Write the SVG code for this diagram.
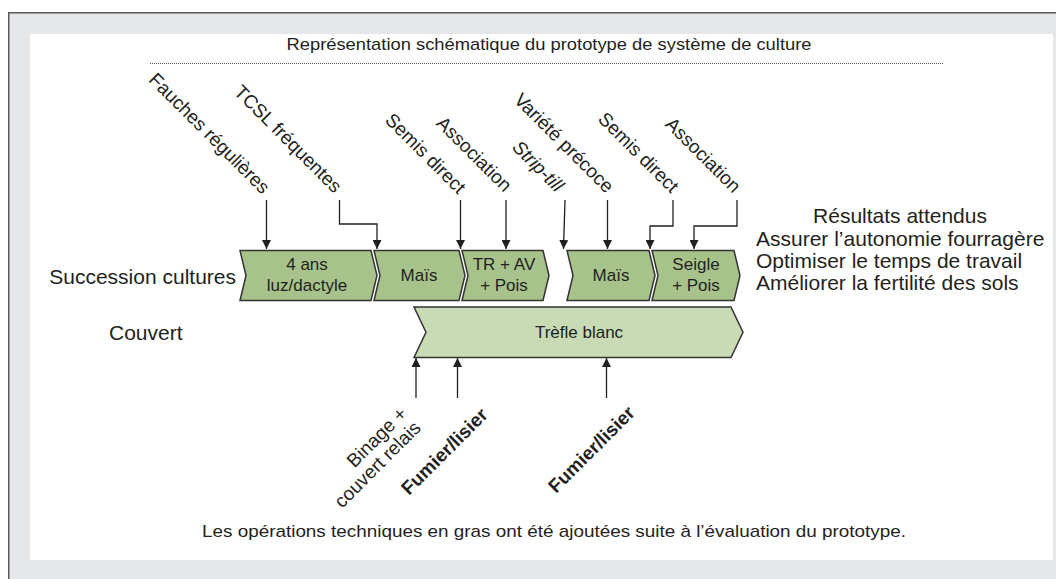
<svg xmlns="http://www.w3.org/2000/svg" width="1056" height="579" viewBox="0 0 1056 579">
<style>
text{font-family:"Liberation Sans",Arial,Helvetica,sans-serif;fill:#231f20}
.lbl{font-size:21px}
.ch{font-size:17px;text-anchor:middle}
.rot{font-size:19px;text-anchor:end}
.bold{font-weight:bold}
.chev{fill:#a7c38b;stroke:#333;stroke-width:1.5;stroke-linejoin:miter}
.cov{fill:#c9dbb4;stroke:#333;stroke-width:1.5}
.con{fill:none;stroke:#231f20;stroke-width:1.3}
</style>
<defs>
<marker id="ah" viewBox="0 0 10 10" refX="10" refY="5" markerWidth="9" markerHeight="9" markerUnits="userSpaceOnUse" orient="auto">
<path d="M0,0 L10,5 L0,10 z" fill="#231f20"/>
</marker>
</defs>
<rect x="0" y="0" width="1056" height="579" fill="#ffffff"/>
<rect x="8" y="12" width="1048" height="567" fill="#e6e7e8"/>
<path d="M8.75,579 V12.75 H1056" fill="none" stroke="#58595b" stroke-width="1.5"/>
<rect x="30" y="34" width="1023" height="526" fill="#ffffff"/>

<text id="title" x="549" y="50" font-size="17" text-anchor="middle" textLength="525" lengthAdjust="spacingAndGlyphs">Représentation schématique du prototype de système de culture</text>
<line x1="150" y1="63.5" x2="943" y2="63.5" stroke="#58595b" stroke-width="1" stroke-dasharray="1 1"/>

<g id="labels-top">
<text class="rot" transform="translate(262,195) rotate(45)">Fauches régulières</text>
<text class="rot" transform="translate(334,194) rotate(45)">TCSL fréquentes</text>
<text class="rot" transform="translate(458,195) rotate(45)">Semis direct</text>
<text class="rot" transform="translate(504,193) rotate(45)">Association</text>
<text class="rot" transform="translate(556,193) rotate(45)" font-style="italic">Strip-till</text>
<text class="rot" transform="translate(606,194) rotate(45)">Variété précoce</text>
<text class="rot" transform="translate(671,194) rotate(45)">Semis direct</text>
<text class="rot" transform="translate(733,194) rotate(45)">Association</text>
</g>

<g id="connectors">
<path class="con" marker-end="url(#ah)" d="M266.5,200 V249"/>
<path class="con" marker-end="url(#ah)" d="M339.5,200 V224 H377 V249"/>
<path class="con" marker-end="url(#ah)" d="M460.5,200 V249"/>
<path class="con" marker-end="url(#ah)" d="M506,200 V249"/>
<path class="con" marker-end="url(#ah)" d="M565,200 L563.5,249"/>
<path class="con" marker-end="url(#ah)" d="M607.5,200 V249"/>
<path class="con" marker-end="url(#ah)" d="M673,200 V226 H650 V249"/>
<path class="con" marker-end="url(#ah)" d="M737,200 V226 H694 V249"/>
<path class="con" marker-end="url(#ah)" d="M416,398 V358"/>
<path class="con" marker-end="url(#ah)" d="M457.5,398 V358"/>
<path class="con" marker-end="url(#ah)" d="M606.5,398 V358"/>
</g>

<text id="row1" class="lbl" x="236" y="284" text-anchor="end" font-size="22">Succession cultures</text>
<text id="row2" class="lbl" x="109" y="340">Couvert</text>

<g id="c1"><polygon class="chev" points="240,250.5 371,250.5 377,275.5 371,300.5 240,300.5 246,275.5"/>
<text class="ch" x="307" y="270">4 ans</text><text class="ch" x="307" y="291">luz/dactyle</text></g>
<g id="c2"><polygon class="chev" points="374,250.5 459,250.5 465,275.5 459,300.5 374,300.5 380,275.5"/>
<text class="ch" x="419" y="281">Maïs</text></g>
<g id="c3"><polygon class="chev" points="462,250.5 543,250.5 549,275.5 543,300.5 462,300.5 468,275.5"/>
<text class="ch" x="504" y="270">TR + AV</text><text class="ch" x="504" y="291">+ Pois</text></g>
<g id="c4"><polygon class="chev" points="567,250.5 649,250.5 655,275.5 649,300.5 567,300.5 573,275.5"/>
<text class="ch" x="611" y="281">Maïs</text></g>
<g id="c5"><polygon class="chev" points="652,250.5 734,250.5 740,275.5 734,300.5 652,300.5 658,275.5"/>
<text class="ch" x="696" y="270">Seigle</text><text class="ch" x="696" y="291">+ Pois</text></g>
<g id="cover"><polygon class="cov" points="414,307 731,307 743,332.3 731,357.5 414,357.5 426,332.3"/>
<text class="ch" x="579" y="338">Trèfle blanc</text></g>

<g id="labels-bottom">
<text class="rot" transform="translate(408,415) rotate(-45)">Binage +</text>
<text class="rot" transform="translate(422,429) rotate(-45)">couvert relais</text>
<text class="rot bold" transform="translate(489,416) rotate(-45)">Fumier/lisier</text>
<text class="rot bold" transform="translate(636,414) rotate(-45)">Fumier/lisier</text>
</g>

<g id="results">
<text class="lbl" x="900" y="223" text-anchor="middle">Résultats attendus</text>
<text class="lbl" x="756" y="246">Assurer l’autonomie fourragère</text>
<text class="lbl" x="756" y="268">Optimiser le temps de travail</text>
<text class="lbl" x="756" y="290">Améliorer la fertilité des sols</text>
</g>

<text id="footer" x="554" y="537" font-size="17" text-anchor="middle" textLength="704" lengthAdjust="spacingAndGlyphs">Les opérations techniques en gras ont été ajoutées suite à l’évaluation du prototype.</text>
</svg>
